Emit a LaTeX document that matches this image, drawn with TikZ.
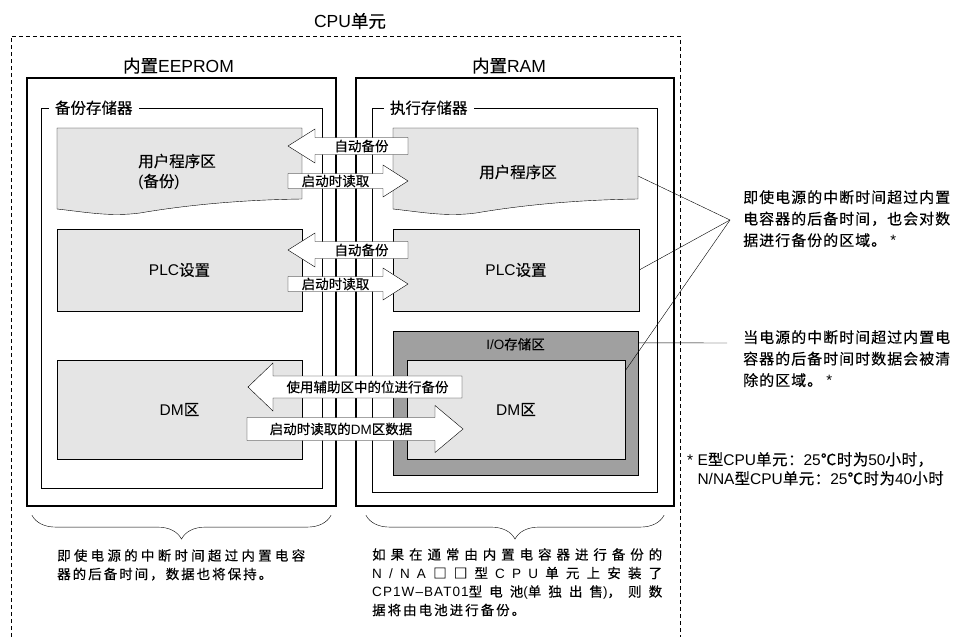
\documentclass[tikz,border=0pt]{standalone}
\usepackage{fontspec}
\setmainfont{Liberation Sans}
\newfontfamily\cjkfont[FakeBold=0.3]{Noto Sans CJK SC}
\usetikzlibrary{positioning}
\usetikzlibrary{decorations.pathreplacing}
\definecolor{areagray}{RGB}{229,229,229}
\definecolor{iogray}{RGB}{160,160,160}
\def\myareaw{245pt}
% Chinese characters are set in the CJK family
\newskip\cjkgap
\XeTeXinterchartokenstate=1
\newXeTeXintercharclass\cjkclass
\count255="3000
\loop
  \XeTeXcharclass\count255=\cjkclass
\ifnum\count255<"9FFF
  \advance\count255 by 1
\repeat
\XeTeXcharclass"FF0C=\cjkclass
\XeTeXcharclass"FF1A=\cjkclass
\XeTeXcharclass"2103=\cjkclass
\XeTeXcharclass"25A1=\cjkclass
\XeTeXinterchartoks 0 \cjkclass={\begingroup\cjkfont}
\XeTeXinterchartoks 4095 \cjkclass={\begingroup\cjkfont}
\XeTeXinterchartoks \cjkclass 0={\endgroup}
\XeTeXinterchartoks \cjkclass 4095={\endgroup}
\XeTeXinterchartoks \cjkclass \cjkclass={\hskip\cjkgap}
\newcommand{\blockarrow}[8]{%
  \draw[my block] (#2,#5-#6) -- (#3,#5-#6) -- (#3,#5-#7) -- (#4,#5)
    -- (#3,#5+#7) -- (#3,#5+#6) -- (#2,#5+#6) -- cycle;
  \node[my flow] (#1) at ({(#2+#3)/2},#5) {#8};}
\tikzset{
line width=.8pt, % All lines thin
x=1pt,y=-1pt, % pixel units, y pointing down
my head/.style={inner sep=0pt,font=\fontsize{17.5}{20}\selectfont},
my unit/.style={draw,dash pattern=on 4pt off 3pt},
my frame/.style={draw,line width=2.2pt},
my store/.style={draw},
my tag/.style={fill=white,inner xsep=6pt,inner ysep=1pt,font=\fontsize{15.5}{18}\selectfont},
my areatext/.style={inner sep=0pt,font=\fontsize{15.5}{20}\selectfont},
my area/.style={draw,fill=areagray,my areatext},
my io/.style={draw,fill=iogray},
my iotext/.style={inner sep=0pt,font=\fontsize{13.5}{16}\selectfont},
my block/.style={draw,fill=white,line join=miter},
my flow/.style={inner sep=0pt,font=\fontsize{13.5}{16}\selectfont},
my callout/.style={draw},
my note/.style={inner sep=0pt,align=left,font=\fontsize{15}{21.5}\selectfont,
  execute at begin node={\cjkgap=1pt}},
my foot/.style={inner sep=0pt,align=left,font=\fontsize{15.5}{19}\selectfont,
  execute at begin node={\cjkgap=.5pt}},
my remark/.style={inner sep=0pt,align=left,font=\fontsize{13.5}{18.5}\selectfont,
  execute at begin node={\cjkgap=2pt plus 20pt}},
my brace/.style={draw,decorate,decoration={brace,mirror,amplitude=24pt}}
}
\begin{document}
\begin{tikzpicture}
\useasboundingbox (0,0) rectangle (954,637);
\draw[my unit] (11,637) -- (11,36) -- (680,36) -- (680,637);
\node[my head] (cpu) at (350,21) {CPU单元};
\node[my frame,minimum width=309pt,minimum height=428pt] (eeprom) at (181.5,292) {};
\node[my frame,minimum width=318pt,minimum height=428pt] (ram) at (515,292) {};
\node[my head,above=3pt of eeprom,xshift=-3pt] (eepromlbl) {内置EEPROM};
\node[my head,above=3pt of ram,xshift=-6pt] (ramlbl) {内置RAM};
\node[my store,minimum width=281pt,minimum height=380pt] (bkmem) at (181.5,298) {};
\node[my store,minimum width=285pt,minimum height=384pt] (exmem) at (514.5,300) {};
\node[my tag,right=8pt of bkmem.north west] (bkmemlbl) {备份存储器};
\node[my tag,right=12pt of exmem.north west] (exmemlbl) {执行存储器};
\foreach \dx in {0,336}
  \path[my area,xshift=\dx] (57,128) -- (302,128) -- (302,199)
    .. controls (230,200) and (175,207) .. (140,213)
    .. controls (110,217) and (85,212) .. (57,209) -- cycle;
\node[my areatext,align=left] (progLtxt) at (177,172) {用户程序区\\(备份)};
\node[my areatext] (progRtxt) at (518,172) {用户程序区};
\coordinate (progRend) at (638,176);
\node[my area,minimum width=\myareaw,minimum height=82pt] (plcL) at (179.5,270) {PLC设置};
\node[my area,minimum width=246pt,minimum height=82pt] (plcR) at (516,270) {PLC设置};
\node[my area,minimum width=\myareaw,minimum height=99pt] (dmL) at (179.5,409.5) {DM区};
\node[my io,minimum width=\myareaw,minimum height=144pt] (io) at (515.5,403) {};
\node[my iotext,below=7pt of io.north] (iolbl) {I/O存储区};
\node[my area,minimum width=218pt,minimum height=99pt] (dmR) at (516,409.5) {DM区};
\blockarrow{save1}{408}{315}{288}{146}{8.5}{17}{自动备份}
\blockarrow{load1}{288}{383}{408}{181}{7.5}{16}{启动时读取}
\blockarrow{save2}{408}{315}{288}{250}{8.5}{17}{自动备份}
\blockarrow{load2}{288}{383}{408}{284}{7.5}{16}{启动时读取}
\blockarrow{save3}{462}{273}{248}{387}{11}{24}{使用辅助区中的位进行备份}
\blockarrow{load3}{247}{435}{463}{429}{11.5}{23.5}{启动时读取的DM区数据}
\coordinate (fan) at (730,220);
\coordinate (ioend) at (727,343);
\path[my callout] (progRend)                     edge (fan)
                  (plcR.east)                    edge (fan)
                  ([yshift=-11pt]dmR.north east) edge (fan)
                  ([yshift=-12pt]io.north east)  edge (ioend);
\node[my note,anchor=north west] (keepnote) at (743,190)
  {即使电源的中断时间超过内置\\电容器的后备时间，也会对数\\据进行备份的区域。 *};
\node[my note,anchor=north west] (clearnote) at (743,330)
  {当电源的中断时间超过内置电\\容器的后备时间时数据会被清\\除的区域。 *};
\node[my foot,anchor=north west] (footnote) at (687,452)
  {* E型CPU单元：25℃时为50小时，\\\hphantom{* }N/NA型CPU单元：25℃时为40小时};
\draw[my brace] ([xshift=6pt,yshift=-8pt]eeprom.south west) -- ([xshift=-6pt,yshift=-8pt]eeprom.south east);
\draw[my brace] ([xshift=11pt,yshift=-8pt]ram.south west) -- ([xshift=-11pt,yshift=-8pt]ram.south east);
\node[my remark,anchor=north west] (keepremark) at (57,549)
  {\makebox[248pt][s]{即使电源的中断时间超过内置电容}\\器的后备时间，数据也将保持。};
\node[my remark,anchor=north west] (batremark) at (372,548)
  {\makebox[290pt][s]{如果在通常由内置电容器进行备份的}\\
   \makebox[290pt][s]{N / N A □ □ 型 C P U 单 元 上 安 装 了}\\
   \makebox[290pt][s]{{\addfontfeature{LetterSpace=8}CP1W–BAT01}型电池(单独出售)，则数}\\
   据将由电池进行备份。};
\end{tikzpicture}
\end{document}
